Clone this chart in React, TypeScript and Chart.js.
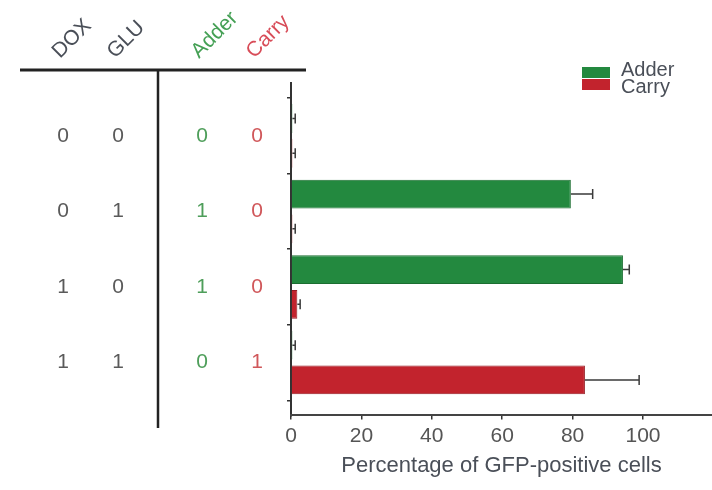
import React, { useEffect, useRef } from "react";
import { Chart, registerables } from "chart.js";

Chart.register(...registerables);

// ---- data ----
const rowPositions = [1, 2, 3, 4];
const doxInputs = [0, 0, 1, 1];
const gluInputs = [0, 1, 0, 1];
const adderOutputs = [0, 1, 1, 0];
const carryOutputs = [0, 0, 0, 1];
const headerLabels = ["DOX", "GLU", "Adder", "Carry"];
const seriesLabels = ["Adder", "Carry"];
const adderValues = [0.4, 79.5, 94.3, 0.4];
const adderErrors = [0.8, 6.2, 1.8, 0.8];
const carryValues = [0.4, 0.4, 1.8, 83.5];
const carryErrors = [0.8, 0.8, 0.8, 15.4];
const xTickValues = [0, 20, 40, 60, 80, 100];
const yTickValues = [0.5, 1.5, 2.5, 3.5, 4.5];
const xAxisTitle = "Percentage of GFP-positive cells";

const FONT = "'Liberation Sans', Arial, Helvetica, sans-serif";
const GREEN = "#23893f";
const RED = "#c2232d";
const TEXT = "#4a4f58";

const errorBarPlugin = {
  id: "errorBars",
  afterDatasetsDraw(chart: any) {
    const ctx = chart.ctx;
    const xs = chart.scales.x;
    const errs = [adderErrors, carryErrors];
    const vals = [adderValues, carryValues];
    ctx.save();
    ctx.strokeStyle = "#3a3a3a";
    ctx.lineWidth = 1.5;
    chart.data.datasets.forEach((ds: any, di: number) => {
      const meta = chart.getDatasetMeta(di);
      meta.data.forEach((bar: any, i: number) => {
        const x0 = bar.x;
        const x1 = xs.getPixelForValue(vals[di][i] + errs[di][i]);
        const y = bar.y;
        ctx.beginPath();
        ctx.moveTo(x0, y);
        ctx.lineTo(x1, y);
        ctx.moveTo(x1, y - 5);
        ctx.lineTo(x1, y + 5);
        ctx.stroke();
      });
    });
    ctx.restore();
  },
};

const tablePlugin = {
  id: "truthTable",
  afterDraw(chart: any) {
    const ctx = chart.ctx;
    const ys = chart.scales.y;
    const colX = [63, 118, 202, 257];
    const headColors = [TEXT, TEXT, "#45a055", "#d84c58"];
    const digitColors = ["#5a5a5a", "#5a5a5a", "#4e9e5a", "#d0575a"];
    const cols = [doxInputs, gluInputs, adderOutputs, carryOutputs];
    ctx.save();
    // lines
    ctx.strokeStyle = "#222";
    ctx.lineWidth = 3;
    ctx.beginPath();
    ctx.moveTo(20, 70);
    ctx.lineTo(306, 70);
    ctx.stroke();
    ctx.lineWidth = 2.5;
    ctx.beginPath();
    ctx.moveTo(158, 70);
    ctx.lineTo(158, 428);
    ctx.stroke();
    // header
    ctx.font = `21px ${FONT}`;
    ctx.textAlign = "left";
    ctx.textBaseline = "alphabetic";
    headerLabels.forEach((lab, c) => {
      ctx.save();
      ctx.translate(colX[c] - 3, 59);
      ctx.rotate(-Math.PI / 4);
      ctx.fillStyle = headColors[c];
      ctx.fillText(lab, 0, 0);
      ctx.restore();
    });
    // digits
    ctx.textAlign = "center";
    ctx.textBaseline = "middle";
    ctx.font = `21px ${FONT}`;
    rowPositions.forEach((p, r) => {
      const y = ys.getPixelForValue(p);
      cols.forEach((col, c) => {
        ctx.fillStyle = digitColors[c];
        ctx.fillText(String(col[r]), colX[c], y);
      });
    });
    // legend
    const colors = [GREEN, RED];
    seriesLabels.forEach((lab, i) => {
      ctx.fillStyle = colors[i];
      ctx.fillRect(582, 67 + i * 12, 28, 11);
      ctx.fillStyle = TEXT;
      ctx.textAlign = "left";
      ctx.textBaseline = "middle";
      ctx.font = `20px ${FONT}`;
      ctx.fillText(lab, 621, 70 + i * 17);
    });
    ctx.restore();
  },
};

export default function App() {
  const ref = useRef<HTMLCanvasElement>(null);
  useEffect(() => {
    const canvas = ref.current!;
    const chart = new Chart(canvas, {
      type: "bar",
      data: {
        datasets: [
          {
            label: seriesLabels[0],
            data: rowPositions.map((p, i) => ({ x: adderValues[i], y: p })),
            backgroundColor: GREEN,
            borderColor: "#1b6e31",
            borderWidth: 1,
          },
          {
            label: seriesLabels[1],
            data: rowPositions.map((p, i) => ({ x: carryValues[i], y: p })),
            backgroundColor: RED,
            borderColor: "#951a22",
            borderWidth: 1,
          },
        ],
      },
      options: {
        indexAxis: "y",
        responsive: false,
        animation: false,
        categoryPercentage: 0.92,
        barPercentage: 0.83,
        layout: { padding: { left: 287, top: 83, right: 0, bottom: 7 } },
        plugins: { legend: { display: false }, tooltip: { enabled: false } },
        scales: {
          y: {
            type: "linear",
            reverse: true,
            offset: false,
            min: 0.3,
            max: 4.7,
            afterBuildTicks: (s: any) => {
              s.ticks = yTickValues.map((v) => ({ value: v }));
            },
            ticks: { display: false },
            grid: { offset: false, drawOnChartArea: false, tickLength: 4, color: "#333", lineWidth: 1.5 },
            border: { color: "#333", width: 2 },
          },
          x: {
            type: "linear",
            min: 0,
            max: 119.6,
            afterBuildTicks: (s: any) => {
              s.ticks = xTickValues.map((v) => ({ value: v }));
            },
            ticks: { font: { family: FONT, size: 21 }, color: "#555", padding: 4 },
            grid: { drawOnChartArea: false, tickLength: 4, color: "#333", lineWidth: 1.5 },
            border: { color: "#444", width: 2 },
            title: {
              display: true,
              text: xAxisTitle,
              font: { family: FONT, size: 22 },
              color: TEXT,
              padding: { top: 0, bottom: 4 },
            },
          },
        },
      },
      plugins: [errorBarPlugin, tablePlugin],
    } as any);
    return () => chart.destroy();
  }, []);
  return (
    <div style={{ position: "fixed", left: 0, top: 0, width: 712, height: 490, background: "#fff" }}>
      <canvas ref={ref} width={712} height={490} />
    </div>
  );
}
